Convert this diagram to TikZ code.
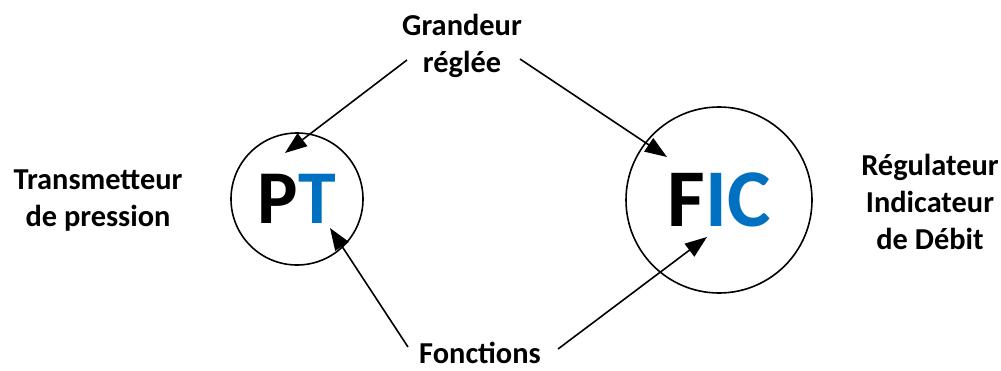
\documentclass[tikz,border=0pt]{standalone}
\usepackage{fontspec}
\setmainfont{Carlito}
\usepackage{tikz, xcolor}
\usetikzlibrary{shapes,arrows.meta}
\definecolor{instblue}{RGB}{0,112,192}

\begin{document}
\begin{tikzpicture}[thick, x=0.5pt, y=-0.5pt]
\tikzstyle{instr}=[circle, draw=black, thick, inner sep=0pt]
\tikzstyle{labeltxt}=[align=center, inner sep=0pt, font=\fontsize{15.2}{18.5}\selectfont\bfseries]
\tikzstyle{drawstyle}=[thick, -{Triangle[length=11pt, width=8pt]}]

\useasboundingbox (0,0) rectangle (1001,370);

% instruments
\node[instr, minimum size=66pt, font=\fontsize{38}{40}\selectfont\bfseries] (PT) at (297,199) {P\textcolor{instblue}{T}};
\node[instr, minimum size=93pt, font=\fontsize{41}{44}\selectfont\bfseries] (FIC) at (719,200) {F\textcolor{instblue}{IC}};

% legends
\node[labeltxt] (grandeur) at (462,46) {Grandeur\\réglée};
\node[labeltxt] (fonctions) at (480,353) {Fonctions};
\node[labeltxt] (transm) at (98,201) {Transmetteur\\de pression};
\node[labeltxt] (regul) at (930,202) {Régulateur\\Indicateur\\de Débit};

% arrow ends
\coordinate (grL) at (407,60);
\coordinate (grR) at (520,59);
\coordinate (foL) at (408,347);
\coordinate (foR) at (558,349);
\coordinate (PTa) at (285,153);
\coordinate (PTb) at (330,228);
\coordinate (FICa) at (667,157);
\coordinate (FICb) at (707,237);

\draw[drawstyle] (grL) -- (PTa);
\draw[drawstyle] (grR) -- (FICa);
\draw[drawstyle] (foL) -- (PTb);
\draw[drawstyle] (foR) -- (FICb);
\end{tikzpicture}
\end{document}
